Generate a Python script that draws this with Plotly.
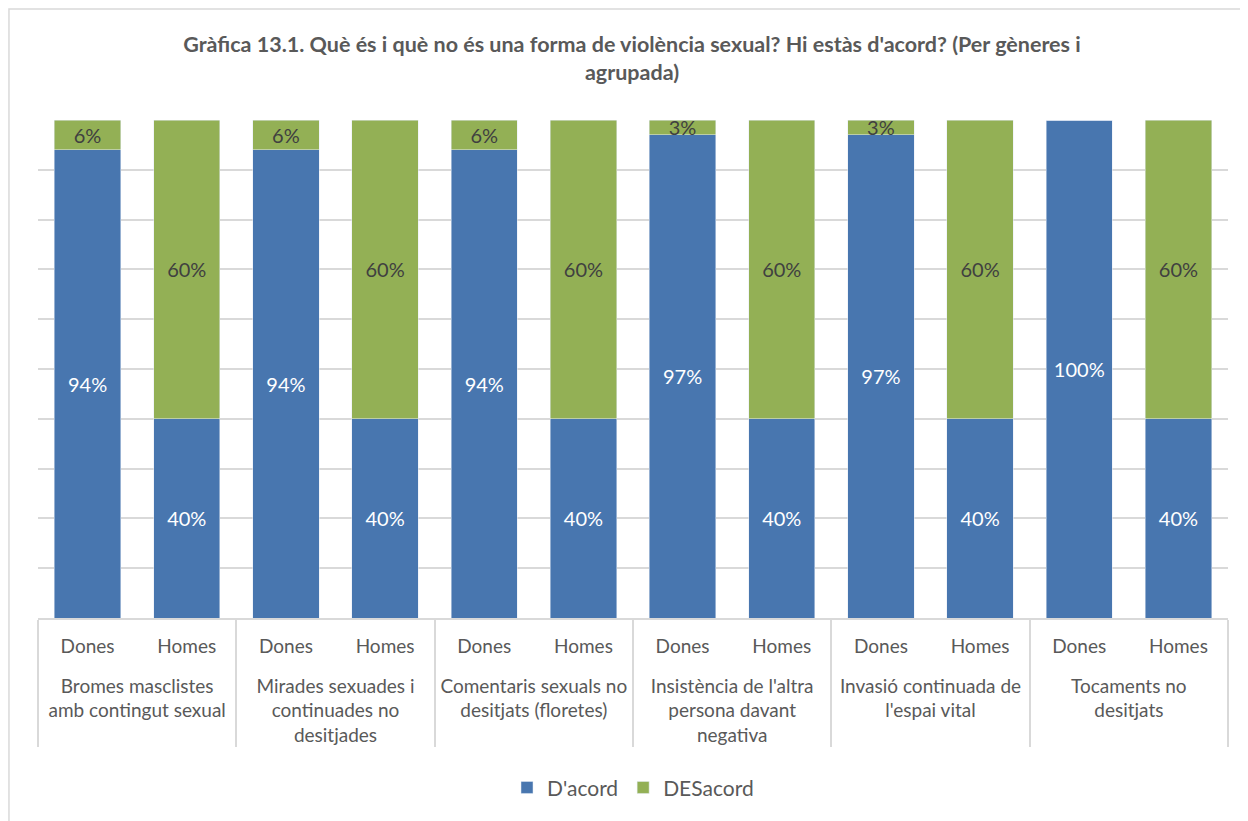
import plotly.graph_objects as go

groups = [
    "Bromes masclistes<br>amb contingut sexual",
    "Mirades sexuades i<br>continuades no<br>desitjades",
    "Comentaris sexuals no<br>desitjats (floretes)",
    "Insistència de l'altra<br>persona davant<br>negativa",
    "Invasió continuada de<br>l'espai vital",
    "Tocaments no<br>desitjats",
]
genders = ["Dones", "Homes"]

acord = [94, 40, 94, 40, 94, 40, 97, 40, 97, 40, 100, 40]
desacord = [6, 60, 6, 60, 6, 60, 3, 60, 3, 60, 0, 60]

# blank first line gives the gap between the two rows of labels
x_groups = ["&nbsp;<br>" + g for g in groups for _ in genders]
x_genders = genders * len(groups)

font_name = "Lato, Open Sans, sans-serif"

fig = go.Figure()
fig.add_trace(
    go.Bar(
        x=[x_groups, x_genders],
        y=acord,
        name="D'acord",
        marker_color="#4876AF",
        text=[f"{v}%" if v else "" for v in acord],
        textposition="inside",
        insidetextanchor="middle",
        textfont=dict(color="white", size=20, family=font_name),
    )
)
fig.add_trace(
    go.Bar(
        x=[x_groups, x_genders],
        y=desacord,
        name="DESacord",
        marker_color="#93B055",
        text=[f"{v}%" if v else "" for v in desacord],
        textposition="inside",
        insidetextanchor="middle",
        textfont=dict(color="#404040", size=20, family=font_name),
    )
)

fig.update_layout(
    barmode="stack",
    bargap=0.33,
    width=1248,
    height=821,
    margin=dict(l=30, r=28, t=112, b=211),
    paper_bgcolor="white",
    plot_bgcolor="white",
    font=dict(family=font_name, color="#595959", size=19),
    uniformtext=dict(minsize=20, mode="show"),
    title=dict(
        text="<b>Gràfica 13.1. Què és i què no és una forma de violència sexual? Hi estàs d'acord? (Per gèneres i<br>agrupada)</b>",
        x=0.5,
        xanchor="center",
        y=0.946,
        yanchor="top",
        font=dict(size=21.5, color="#595959", family=font_name),
    ),
    legend=dict(
        orientation="h",
        traceorder="normal",
        x=0.5,
        xanchor="center",
        y=-0.341,
        yanchor="middle",
        font=dict(size=21, color="#595959"),
    ),
    shapes=[
        dict(
            type="rect",
            xref="paper",
            yref="paper",
            x0=-0.0244,
            x1=1.1,
            y0=-0.6,
            y1=1.2229,
            line=dict(color="#D9D9D9", width=1.5),
        )
    ],
)
fig.update_yaxes(
    range=[0, 100],
    dtick=10,
    showticklabels=False,
    showgrid=True,
    gridcolor="#D9D9D9",
    gridwidth=2,
    zeroline=False,
    automargin=False,
)
fig.update_xaxes(
    showline=True,
    linecolor="#D9D9D9",
    linewidth=2,
    showdividers=True,
    dividercolor="#D9D9D9",
    dividerwidth=2,
    ticklabelstandoff=10,
    tickfont=dict(size=19, color="#595959"),
    automargin=False,
)

fig.write_html("out.html")
